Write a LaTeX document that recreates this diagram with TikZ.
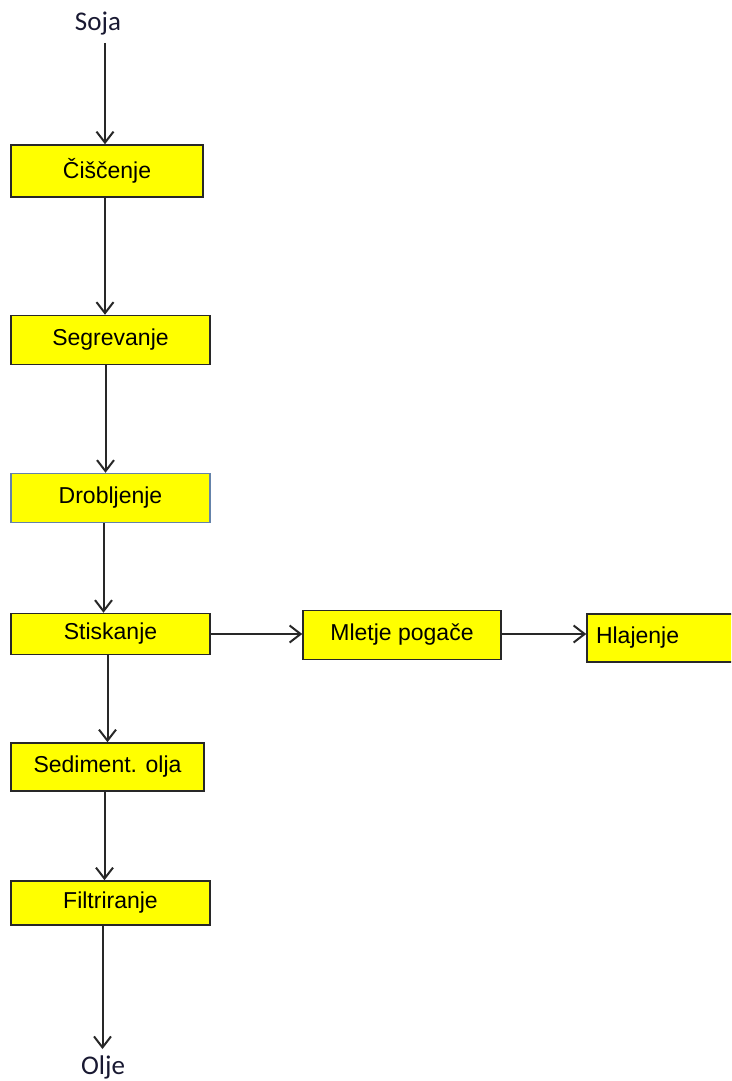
\documentclass[tikz,border=0pt]{standalone}
\usepackage{fontspec}
\setmainfont{Liberation Sans}
\newfontfamily\calibri{Carlito}
\usepackage{xcolor}
\usetikzlibrary{arrows.meta}
\definecolor{rumena}{RGB}{255,255,0}
\definecolor{obroba}{RGB}{40,40,40}
\definecolor{modra}{RGB}{100,130,170}
\definecolor{crnilo}{RGB}{25,25,50}

\begin{document}
\begin{tikzpicture}[x=1pt,y=-1pt,
    korak/.style={line width=1.5pt,fill=rumena,inner sep=0pt,
                  font=\fontsize{23}{26}\selectfont},
    tok/.style={line width=2pt,draw=obroba,
                -{Straight Barb[length=11pt,width=17pt,line width=2pt]}},
    konec/.style={font=\calibri\fontsize{27}{30}\selectfont,text=crnilo,inner sep=0pt}]
  \useasboundingbox (0,0) rectangle (731,1081);
  \clip (0,0) rectangle (731,1081);
  \node[konec,anchor=base] (soja) at (98,31) {Soja};
  \node[konec,anchor=base] (olje) at (103,1074) {Olje};
  \foreach \ime/\besedilo/\x/\y/\w/\h/\rob in
     {cisc/Čiščenje/107/171/192/52/obroba,
      segr/Segrevanje/110.5/340/199/49/obroba,
      drob/Drobljenje/110.5/498/199/49/modra,
      stis/Stiskanje/110.5/634/199/41/obroba,
      mlet/Mletje pogače/402/635/198/49/obroba,
      sedi/Sediment. olja/107.5/767/193/48/obroba,
      filt/Filtriranje/110.5/903/199/44/obroba}
    \node[korak,draw=\rob,minimum width=\w pt,minimum height=\h pt] (\ime) at (\x,\y) {\besedilo};
  \node[korak,draw=obroba,minimum height=48pt,text width=135pt,align=left,inner xsep=9pt]
    (hlaj) at (663.5,638) {Hlajenje};
  \draw[tok] ([xshift=-2pt]soja.south -| cisc.north) ++(0,7) -- ([xshift=-2pt]cisc.north);
  \foreach \a/\b/\d in {cisc/segr/-2,segr/drob/-5,drob/stis/-7,stis/sedi/-3,sedi/filt/-3}
    \draw[tok] ([xshift=\d pt]\a.south) -- ([xshift=\d pt]\a.south |- \b.north);
  \draw[tok] ([xshift=-8pt]filt.south) -- ([xshift=-8pt,yshift=6pt]filt.south |- olje.north);
  \draw[tok] (stis.east) -- (mlet.west |- stis.east);
  \draw[tok] (mlet.east |- stis.east) -- (hlaj.west |- stis.east);
\end{tikzpicture}
\end{document}
